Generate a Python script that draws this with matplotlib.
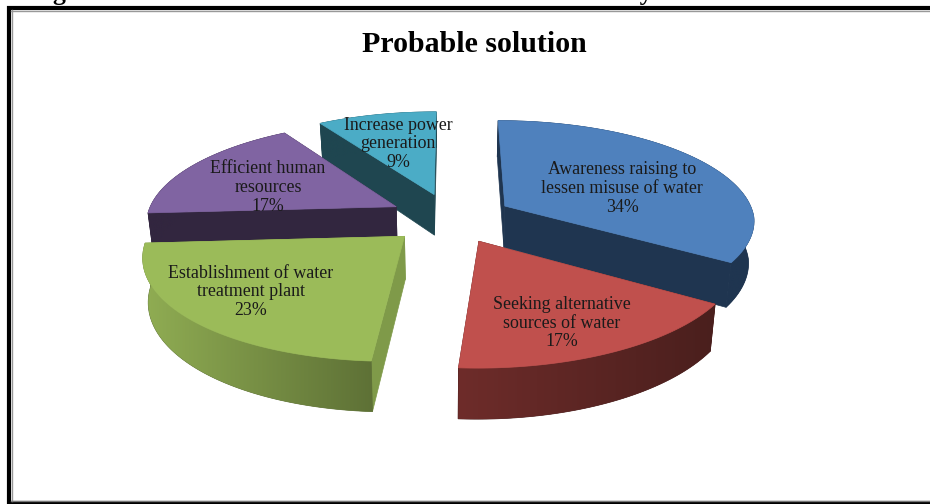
import numpy as np
import matplotlib
matplotlib.use('Agg')
import matplotlib.pyplot as plt
from matplotlib.colors import LinearSegmentedColormap
from matplotlib.patches import Polygon, Rectangle

# datos del grafico
etiquetas = ['Awareness raising to\nlessen misuse of water',
             'Seeking alternative\nsources of water',
             'Establishment of water\ntreatment plant',
             'Efficient human\nresources',
             'Increase power\ngeneration']
valores = [34, 17, 23, 17, 9]
titulo = 'Probable solution'
leyenda = "Figure 4: Probable solution to the water Crisis from City dwellers' Point of view"

color_cara = ['#4F81BD', '#C0504D', '#9BBB59', '#8064A2', '#4BACC6']
color_corte = ['#1F3550', '#4A1F1D', '#7F9A49', '#32263F', '#1F4650']
# pared exterior: color a la izquierda y a la derecha
color_borde = [('#1F3550', '#1F3550'), ('#6E2C2A', '#4A1F1D'), ('#90AD53', '#5E7136'),
               ('#32263F', '#32263F'), ('#1F4650', '#1F4650')]
pos_texto = [(622, 188.5), (562, 323), (251, 292), (268, 187.5), (398, 144)]

# parametros de la proyeccion, en pixeles
cx, cy = 451, 218
radio_x, radio_y = 250, 101
persp = 0.145
sesgo = 6.5
convergencia = 0.018
separacion = 0.25
alto = 42


def proyectar(x, y, z=0.0):
    esc = 1 / (1 + persp * y)
    # las verticales se cierran un poco hacia abajo
    px = radio_x * x * esc * (1 - convergencia * z) + sesgo * min(y, 0)
    return cx + px, cy - radio_y * y * esc + alto * z * esc


def dibujar_rebanada(ax, a1, a2, i, orden):
    media = np.radians((a1 + a2) / 2)
    ox, oy = separacion * np.cos(media), separacion * np.sin(media)
    t = np.radians(np.linspace(a1, a2, 80))
    xs, ys = ox + np.cos(t), oy + np.sin(t)
    z0 = orden * 10

    # caras del corte
    for k in (0, -1):
        p = [proyectar(ox, oy), proyectar(xs[k], ys[k]),
             proyectar(xs[k], ys[k], 1), proyectar(ox, oy, 1)]
        ax.add_patch(Polygon(p, fc=color_corte[i], ec=color_corte[i], lw=0.5, zorder=z0))

    # pared exterior con degradado de izquierda a derecha
    arriba = [proyectar(a, b) for a, b in zip(xs, ys)]
    abajo = [proyectar(a, b, 1) for a, b in zip(xs, ys)]
    pared = Polygon(arriba + abajo[::-1], fc=color_borde[i][1], ec=color_borde[i][1],
                    lw=0.5, zorder=z0 + 1)
    ax.add_patch(pared)
    px = np.array(arriba + abajo)
    mapa = LinearSegmentedColormap.from_list('pared', color_borde[i])
    img = ax.imshow(np.linspace(0, 1, 256).reshape(1, -1), cmap=mapa, aspect='auto',
                    extent=(px[:, 0].min(), px[:, 0].max(), px[:, 1].max(), px[:, 1].min()),
                    zorder=z0 + 2)
    img.set_clip_path(pared)

    # cara superior
    sup = [proyectar(ox, oy)] + arriba
    ax.add_patch(Polygon(sup, fc=color_cara[i], ec=color_cara[i], lw=0.5, zorder=z0 + 3))


fig = plt.figure(figsize=(9.3, 5.04), dpi=100)
ax = fig.add_axes([0, 0, 1, 1])
ax.axis('off')

# marco
ax.add_patch(Rectangle((9, 8), 940, 494.5, fc='white', ec='black', lw=3, zorder=0))
ax.plot([11, 930], [10.5, 10.5], color='#999999', lw=1, zorder=1)
ax.plot([11.5, 11.5], [10, 501], color='#999999', lw=1, zorder=1)
ax.plot([11, 930], [501, 501], color='#777777', lw=1, zorder=1)

# angulos: empieza arriba y va en sentido horario
total = sum(valores)
fin = 90 - np.cumsum(valores) / total * 360
ini = np.concatenate(([90], fin[:-1]))

# de atras hacia adelante
for orden, i in enumerate([4, 3, 0, 1, 2], start=1):
    dibujar_rebanada(ax, ini[i], fin[i], i, orden)

ax.set_xlim(0, 930)
ax.set_ylim(504, 0)

for i in range(len(valores)):
    ax.text(pos_texto[i][0], pos_texto[i][1], f'{etiquetas[i]}\n{valores[i]}%',
            family='Liberation Serif', fontsize=12.9, color='#1A1A1A',
            ha='center', va='center', linespacing=1.12, zorder=100)

ax.text(474, 45, titulo, family='Liberation Serif', fontsize=21.5, weight='bold',
        ha='center', va='center', color='black', zorder=100)
ax.text(30, 0, leyenda, family='Liberation Serif', fontsize=18.5, weight='bold',
        ha='left', va='baseline', color='black', zorder=100)

fig.savefig('out.png', dpi=100)
